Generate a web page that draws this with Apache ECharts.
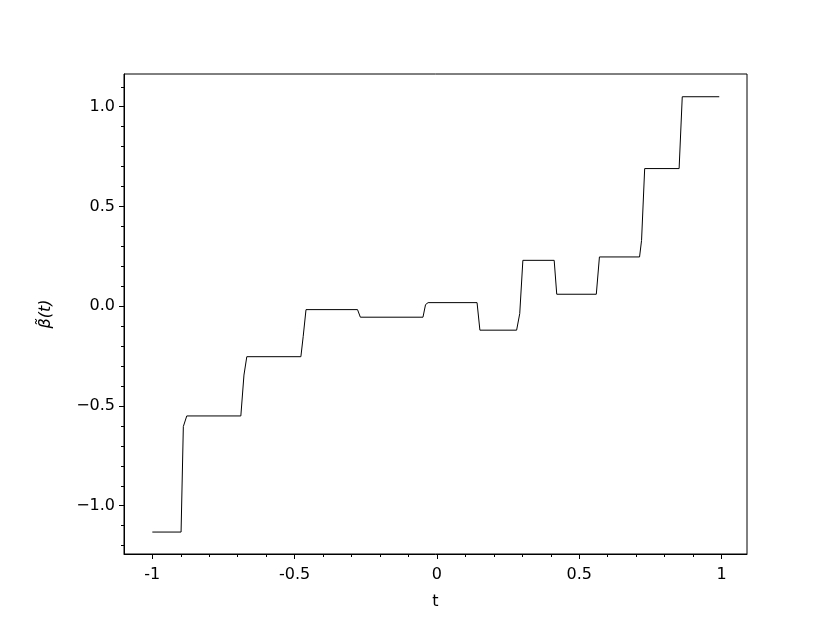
<!DOCTYPE html>
<html>
<head>
<meta charset="utf-8">
<script src="https://cdn.jsdelivr.net/npm/echarts@6/dist/echarts.min.js"></script>
<style>html,body{margin:0;padding:0;background:#fff}#c{width:830px;height:623px}</style>
</head>
<body>
<div id="c"></div>
<script>
const tValues = [-1, -0.899, -0.891, -0.879, -0.689, -0.678, -0.668, -0.478, -0.470, -0.460, -0.279, -0.269, -0.049, -0.040, -0.031, 0.141, 0.151, 0.280, 0.291, 0.302, 0.412, 0.421, 0.560, 0.571, 0.712, 0.719, 0.730, 0.851, 0.862, 0.992];
const betaValues = [-1.132, -1.132, -0.603, -0.55, -0.55, -0.345, -0.253, -0.253, -0.153, -0.017, -0.017, -0.055, -0.055, 0.008, 0.018, 0.018, -0.12, -0.12, -0.037, 0.23, 0.23, 0.06, 0.06, 0.247, 0.247, 0.33, 0.69, 0.69, 1.05, 1.05];
const xMajorTicks = [-1, -0.5, 0, 0.5, 1];
const xMinorTicks = [-0.9, -0.8, -0.7, -0.6, -0.4, -0.3, -0.2, -0.1, 0.1, 0.2, 0.3, 0.4, 0.6, 0.7, 0.8, 0.9];
const yMajorTicks = [-1.0, -0.5, 0.0, 0.5, 1.0];
const yMinorTicks = [-1.2, -1.1, -0.9, -0.8, -0.7, -0.6, -0.4, -0.3, -0.2, -0.1, 0.1, 0.2, 0.3, 0.4, 0.6, 0.7, 0.8, 0.9, 1.1];

const FONT = 'DejaVu Sans';
const FS = 16;
const chart = echarts.init(document.getElementById('c'), null, {renderer: 'canvas'});
const data = tValues.map((t, i) => [t, betaValues[i]]);
const xMin = -1.0995, xMax = 1.0895, yMin = -1.242, yMax = 1.164;

chart.setOption({
  animation: false,
  backgroundColor: '#fff',
  grid: {left: 124, right: 83, top: 74, bottom: 69, show: true, borderColor: '#000', borderWidth: 1, backgroundColor: 'transparent'},
  xAxis: [
    {
      type: 'value', min: xMin, max: xMax, position: 'bottom', offset: 0,
      name: 't', nameLocation: 'middle', nameGap: 40,
      nameTextStyle: {fontFamily: FONT, fontSize: FS, color: '#000'},
      axisLine: {show: true, onZero: false, lineStyle: {color: '#000', width: 1}},
      axisTick: {show: true, inside: false, length: 5, lineStyle: {color: '#000', width: 1}, customValues: xMajorTicks},
      axisLabel: {show: true, margin: 13, fontFamily: FONT, fontSize: FS, color: '#000', customValues: xMajorTicks,
        formatter: v => String(+v.toFixed(2))},
      splitLine: {show: false}
    },
    {
      type: 'value', min: xMin, max: xMax, position: 'bottom', offset: 0,
      axisLine: {show: false, onZero: false},
      axisTick: {show: true, inside: false, length: 3, lineStyle: {color: '#000', width: 1}, customValues: xMinorTicks},
      axisLabel: {show: false},
      splitLine: {show: false}
    }
  ],
  yAxis: [
    {
      type: 'value', min: yMin, max: yMax, position: 'left', offset: 0,
      name: 'β̃(t)', nameLocation: 'middle', nameGap: 70, nameRotate: 90,
      nameTextStyle: {fontFamily: FONT, fontSize: FS, fontStyle: 'italic', color: '#000'},
      axisLine: {show: true, onZero: false, lineStyle: {color: '#000', width: 1}},
      axisTick: {show: true, inside: false, length: 5, lineStyle: {color: '#000', width: 1}, customValues: yMajorTicks},
      axisLabel: {show: true, margin: 9, fontFamily: FONT, fontSize: FS, color: '#000', customValues: yMajorTicks,
        formatter: v => v.toFixed(1).replace('-', '\u2212')},
      splitLine: {show: false}
    },
    {
      type: 'value', min: yMin, max: yMax, position: 'left', offset: 0,
      axisLine: {show: false, onZero: false},
      axisTick: {show: true, inside: false, length: 3, lineStyle: {color: '#000', width: 1}, customValues: yMinorTicks},
      axisLabel: {show: false},
      splitLine: {show: false}
    }
  ],
  series: [{
    type: 'line', xAxisIndex: 0, yAxisIndex: 0, data: data,
    showSymbol: false, symbol: 'none', smooth: false,
    lineStyle: {color: '#000', width: 1}
  }]
});
</script>
</body>
</html>
